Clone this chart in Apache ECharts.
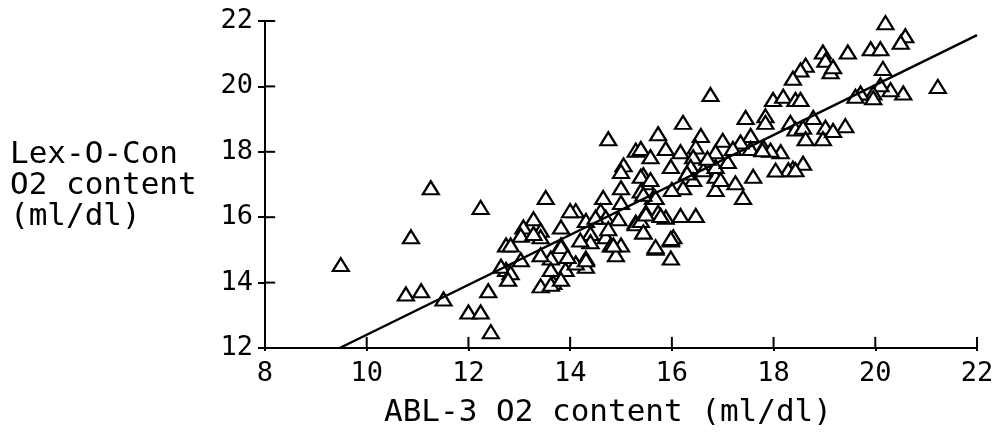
<!DOCTYPE html>
<html>
<head>
<meta charset="utf-8">
<script src="https://cdn.jsdelivr.net/npm/echarts@6/dist/echarts.min.js"></script>
<style>html,body{margin:0;padding:0;background:#fff;}#c{width:1008px;height:440px;}</style>
</head>
<body>
<div id="c"></div>
<script>
// ABL-3 O2 content (x) vs Lex-O-Con O2 content (y), ml/dl
var points = [
[9.49,14.55],[10.87,15.4],[11.26,16.9],[10.77,13.65],[11.07,13.75],[11.51,13.5],[12.24,16.3],[12.0,13.1],[12.24,13.1],[12.44,12.5],[12.39,13.75],[12.74,15.15],[12.74,14.4],
[14.75,18.4],[15.29,18.05],[15.05,17.6],[15.0,17.4],[15.0,16.9],[13.52,16.6],[14.65,16.6],[15.0,16.45],[14.11,16.2],[14.6,16.2],[14.31,15.9],[14.7,16.0],[14.95,15.95],[15.29,15.85],[13.28,15.95],[13.08,15.7],[13.42,15.6],[13.03,15.45],[13.42,15.4],[12.83,15.15],[14.4,15.5],[14.7,15.4],[14.4,15.25],[14.8,15.15],[15.0,15.15],[13.82,15.15],[13.62,14.75],[13.42,14.85],[14.31,14.75],[14.9,14.85],[14.31,14.5],[13.91,14.4],[13.62,14.4],[12.64,14.5],[12.83,14.3],[12.78,14.1],[13.67,14.0],[13.42,13.9],[13.62,13.95],[13.82,15.7],[13.28,15.5],[13.82,15.1],[13.03,14.7],[13.82,14.1],[14.11,14.6],[14.5,16.0],[14.75,15.65],[14.0,16.2],[14.2,15.3],[13.95,14.8],
[15.49,17.05],[15.44,17.3],[15.63,16.6],[15.49,16.15],[15.73,16.15],[15.88,16.0],[16.17,16.05],[16.47,16.05],[15.29,15.8],[15.44,15.55],[15.68,15.05],[15.98,15.3],[16.03,15.4],[15.98,14.75],[14.85,15.15],[14.31,14.7],
[16.76,19.75],[16.22,18.9],[15.73,18.55],[17.45,19.05],[17.84,19.1],[17.84,18.9],[17.99,19.6],[18.19,19.7],[18.43,19.6],[18.33,18.9],[18.43,18.7],[16.57,18.5],[17.0,18.35],[17.55,18.5],[17.55,18.1],[17.35,18.3],[17.8,18.15],[18.14,18.0],[17.94,18.05],[18.38,17.5],[18.29,17.45],[17.6,17.25],[17.25,17.05],[17.4,16.6],[16.86,16.85],[16.86,17.25],[15.39,18.1],[15.58,17.85],[15.88,18.1],[16.17,18.0],[16.47,18.15],[16.86,18.0],[16.42,17.85],[16.37,17.55],[16.62,17.45],[16.86,17.55],[16.96,17.15],[16.42,17.15],[16.22,16.9],[15.39,17.25],[15.58,17.15],[15.39,16.8],[15.68,16.6],[15.44,16.7],[15.98,17.55],[15.39,15.9],[15.49,16.1],[15.78,16.05],[15.44,15.55],[15.98,15.35],[15.68,15.1],
[20.2,21.95],[20.59,21.55],[20.5,21.35],[19.91,21.15],[20.1,21.15],[19.46,21.05],[18.97,21.05],[19.02,20.8],[19.12,20.45],[19.17,20.6],[18.63,20.65],[18.53,20.5],[18.38,20.25],[20.15,20.55],[21.23,20.0],[20.55,19.8],[20.3,19.9],[20.1,20.05],[19.96,19.8],[19.71,19.8],[19.96,19.65],[19.61,19.7],[18.53,19.6],[18.78,19.05],[19.41,18.8],[18.58,18.75],[19.02,18.75],[18.63,18.4],[18.97,18.4],[19.17,18.65],[18.58,17.65],[18.43,17.45],
[18.04,17.44],[17.78,18.06],[16.7,17.8],[17.1,17.7],[16.3,17.35],[17.2,18.1],[16.0,16.85]
];
var fitLine = [[9.47,12],[22,21.57]];
var xRange = [8, 22];
var yRange = [12, 22];
var tickStep = 2;
var xTicks = [8, 10, 12, 14, 16, 18, 20, 22];
var yTicks = [12, 14, 16, 18, 20, 22];
var yTitle = 'Lex-O-Con\nO2 content\n(ml/dl)';
var xTitle = 'ABL-3 O2 content (ml/dl)';

var FONT = 'DejaVu Sans Mono';
var TICK = {color: '#000', width: 2};
// inner tick half-lengths, in axis units (about 11 px and 10 px)
var IN_TICK_Y = 0.34, IN_TICK_X = 0.2;

var tickSeries = [];
xTicks.forEach(function (v) {
  tickSeries.push({type: 'line', data: [[v, yRange[0]], [v, yRange[0] + IN_TICK_Y]],
    showSymbol: false, symbol: 'none', silent: true, clip: false,
    lineStyle: {color: '#000', width: 2}, z: 1});
});
yTicks.forEach(function (v) {
  tickSeries.push({type: 'line', data: [[xRange[0], v], [xRange[0] + IN_TICK_X, v]],
    showSymbol: false, symbol: 'none', silent: true, clip: false,
    lineStyle: {color: '#000', width: 2}, z: 1});
});

var chart = echarts.init(document.getElementById('c'), null, {renderer: 'canvas'});
chart.setOption({
  animation: false,
  backgroundColor: '#fff',
  title: [
    {text: yTitle, left: 10, top: 139, padding: 0,
     textStyle: {fontFamily: FONT, fontSize: 31, fontWeight: 'normal', color: '#000', lineHeight: 31}},
    {text: xTitle, left: 384, top: 397, padding: 0,
     textStyle: {fontFamily: FONT, fontSize: 31, fontWeight: 'normal', color: '#000'}}
  ],
  grid: {left: 265, right: 31, top: 21, bottom: 92},
  xAxis: {
    type: 'value', min: xRange[0], max: xRange[1], interval: tickStep,
    axisLine: {show: true, onZero: false, lineStyle: {color: '#000', width: 2}},
    axisTick: {show: true, length: 3, lineStyle: TICK},
    axisLabel: {color: '#000', fontFamily: FONT, fontSize: 27, margin: 12},
    splitLine: {show: false}
  },
  yAxis: {
    type: 'value', min: yRange[0], max: yRange[1], interval: tickStep,
    axisLine: {show: true, onZero: false, lineStyle: {color: '#000', width: 2}},
    axisTick: {show: true, length: 7, lineStyle: TICK},
    axisLabel: {color: '#000', fontFamily: FONT, fontSize: 27, margin: 12},
    splitLine: {show: false}
  },
  series: tickSeries.concat([
    {
      type: 'scatter', data: points,
      symbol: 'triangle', symbolSize: [16, 13],
      itemStyle: {color: '#fff', borderColor: '#000', borderWidth: 2.2, opacity: 1},
      z: 2
    },
    {
      type: 'line', data: fitLine, showSymbol: false, symbol: 'none',
      lineStyle: {color: '#000', width: 2.5}, z: 3
    }
  ])
});
</script>
</body>
</html>
